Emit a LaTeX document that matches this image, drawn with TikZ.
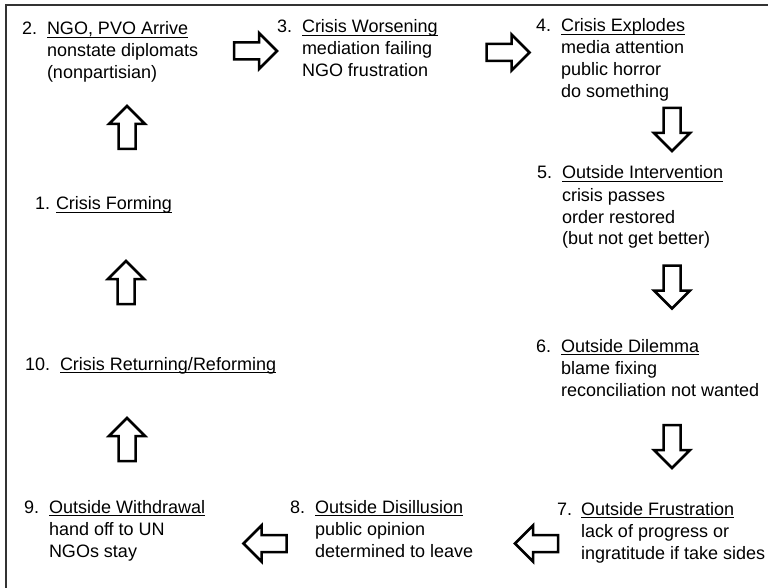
\documentclass[tikz,border=0pt]{standalone}
\usepackage{fontspec}
\setmainfont{Liberation Sans}
\newcommand\myul[1]{\setbox0\hbox{#1}\rlap{\rule[-3pt]{\wd0}{1.1pt}}\box0}
\newcommand\itemlines[1]{\begin{tabular}[t]{@{}l@{}}#1\end{tabular}}
\begin{document}
\begin{tikzpicture}[x=1pt,y=-1pt,
  every node/.style={inner sep=0pt,outer sep=0pt,anchor=base west,font=\fontsize{18}{22}\selectfont},
  blockarrow/.style={draw=black,fill=white,line width=2.5pt,line join=miter},
  barrow/.pic={\draw[blockarrow] (-21.5,-8.5) -- (3.5,-8.5) -- (3.5,-18) -- (21.5,0) -- (3.5,18) -- (3.5,8.5) -- (-21.5,8.5) -- cycle;},
  frame/.style={draw=black!80,line width=1.5pt}]
\useasboundingbox (0,0) rectangle (768,588);
\draw[frame] (6,588) -- (6,5) -- (768,5);

% numbers
\node (l1) at (35,210) {1.};
\node (l2) at (22,35) {2.};
\node (l3) at (277,33) {3.};
\node (l4) at (536,32) {4.};
\node (l5) at (537,179) {5.};
\node (l6) at (536,352) {6.};
\node (l7) at (557,515) {7.};
\node (l8) at (290,513) {8.};
\node (l9) at (24,513) {9.};
\node (l10) at (25,370) {10.};

% items
\node (n1) at (56,210) {\itemlines{\myul{Crisis Forming}}};
\node (n2) at (47,35) {\itemlines{\myul{NGO, PVO Arrive}\\nonstate diplomats\\(nonpartisian)}};
\node (n3) at (302,33) {\itemlines{\myul{Crisis Worsening}\\mediation failing\\NGO frustration}};
\node (n4) at (561,32) {\itemlines{\myul{Crisis Explodes}\\media attention\\public horror\\do something}};
\node (n5) at (562,179) {\itemlines{\myul{Outside Intervention}\\crisis passes\\order restored\\(but not get better)}};
\node (n6) at (561,352) {\itemlines{\myul{Outside Dilemma}\\blame fixing\\reconciliation not wanted}};
\node (n7) at (581,515) {\itemlines{\myul{Outside Frustration}\\lack of progress or\\ingratitude if take sides}};
\node (n8) at (315,513) {\itemlines{\myul{Outside Disillusion}\\public opinion\\determined to leave}};
\node (n9) at (49,513) {\itemlines{\myul{Outside Withdrawal}\\hand off to UN\\NGOs stay}};
\node (n10) at (60,370) {\itemlines{\myul{Crisis Returning/Reforming}}};

% block arrows
\pic[rotate=90] (a12) at (127,127.5) {barrow};
\pic (a23) at (255.5,51) {barrow};
\pic (a34) at (508,52.5) {barrow};
\pic[rotate=-90] (a45) at (672,129.5) {barrow};
\pic[rotate=-90] (a56) at (672,287) {barrow};
\pic[rotate=-90] (a67) at (672,446.5) {barrow};
\pic[rotate=180] (a78) at (536.5,543.5) {barrow};
\pic[rotate=180] (a89) at (265,543.5) {barrow};
\pic[rotate=90] (a910) at (127,439.5) {barrow};
\pic[rotate=90] (a101) at (126,282.5) {barrow};
\end{tikzpicture}
\end{document}
